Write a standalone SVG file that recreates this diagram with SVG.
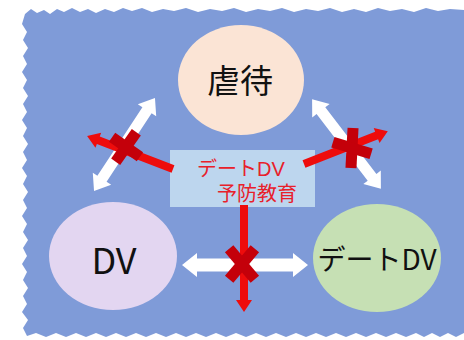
<svg xmlns="http://www.w3.org/2000/svg" width="464" height="340" viewBox="0 0 464 340" lang="ja">
<style>
.jp{font-family:"Noto Sans CJK JP","Noto Sans",sans-serif}
.box{font-family:"Liberation Sans","Noto Sans CJK JP",sans-serif}
.lbl{fill:#111;text-anchor:middle}
.warr{fill:#ffffff}
.rarr{fill:#ee0c0c}
.x{fill:#c4000a}
</style>
<rect x="0" y="0" width="464" height="340" fill="#ffffff"/>
<path id="bg" fill="#7f9bd8" d="M25,14 L31,9 L37,13 L44,10 L50,14 L57,9 L64,12 L72,8 L80,12 L88,9 L96,13 L105,9 L114,12 L123,8 L132,11 L142,8 L152,12 L163,9 L174,11 L186,8 L198,12 L210,9 L222,11 L234,8 L246,12 L258,9 L270,11 L282,8 L294,12 L306,9 L318,11 L330,8 L342,12 L354,9 L366,12 L378,8 L390,11 L402,9 L414,12 L426,8 L438,11 L450,9 L464,10 L464,333 L456,337 L448,333 L440,337 L432,333 L424,337 L416,333 L406,337 L396,333 L386,337 L376,333 L366,337 L356,333 L346,337 L336,333 L326,337 L316,333 L306,337 L296,333 L286,337 L276,333 L266,337 L256,333 L246,337 L236,333 L226,337 L216,333 L206,337 L196,333 L186,337 L176,333 L166,337 L156,333 L146,337 L136,333 L126,337 L116,333 L106,337 L96,333 L86,337 L76,333 L66,337 L56,333 L46,337 L36,333 L27,336 L23,328 L28,320 L22,312 L27,304 L23,296 L28,288 L23,280 L27,272 L22,264 L27,256 L23,248 L28,240 L23,232 L27,224 L22,216 L27,208 L23,200 L28,192 L23,184 L27,176 L22,168 L27,160 L23,152 L28,144 L23,136 L27,128 L22,120 L27,112 L23,104 L28,96 L23,88 L27,80 L22,72 L27,64 L23,56 L28,48 L23,40 L27,32 L22,24 Z"/>
<g id="node-abuse">
<ellipse cx="241" cy="80" rx="63" ry="55" fill="#fbe4d5"/>
<text class="jp lbl" x="240" y="93" font-size="33">虐待</text>
</g>
<g id="node-dv">
<ellipse cx="113" cy="256" rx="64" ry="54" fill="#e3d6f1"/>
<text class="jp lbl" x="114" y="274" font-size="36">DV</text>
</g>
<g id="node-datedv">
<ellipse cx="377" cy="258" rx="64" ry="54" fill="#c6e0b4"/>
<text class="jp lbl" x="377" y="270" font-size="28">デートDV</text>
</g>
<g id="connectors">
<polygon class="warr" transform="translate(245,265)" points="-63,0 -48,-12 -48,-6.5 48,-6.5 48,-12 63,0 48,12 48,6.5 -48,6.5 -48,12"/>
<polygon class="warr" transform="translate(124.5,144.5) rotate(-56.7)" points="-55.5,0 -41,-11 -41,-5.5 41,-5.5 41,-11 55.5,0 41,11 41,5.5 -41,5.5 -41,11"/>
<polygon class="warr" transform="translate(346.5,144) rotate(52.5)" points="-56.5,0 -42,-11 -42,-5.5 42,-5.5 42,-11 56.5,0 42,11 42,5.5 -42,5.5 -42,11"/>
</g>
<g id="node-prevention">
<rect x="170" y="150" width="145" height="57" fill="#bdd6ee"/>
<text class="box" font-size="20" fill="#e8202a"><tspan x="197" y="176">デートDV</tspan><tspan x="217" y="201">予防教育</tspan></text>
</g>
<g id="blocks">
<polygon class="rarr" transform="translate(173,169) rotate(201)" points="0,-4 80,-4 80,-8 92,0 80,8 80,4 0,4"/>
<polygon class="rarr" transform="translate(304,164) rotate(-21.4)" points="0,-4 78,-4 78,-8 90,0 78,8 78,4 0,4"/>
<polygon class="rarr" transform="translate(244,205) rotate(90)" points="0,-4 95,-4 95,-8 107,0 95,8 95,4 0,4"/>
<g transform="translate(126,147) rotate(35)">
<rect class="x" x="-5.5" y="-18" width="11" height="36"/>
<rect class="x" x="-17" y="-5.5" width="34" height="11"/>
</g>
<g transform="translate(352,148)">
<rect class="x" x="-5.5" y="-20" width="11" height="40" transform="rotate(3)"/>
<rect class="x" x="-20" y="-5.5" width="40" height="11" transform="rotate(17)"/>
</g>
<g transform="translate(242,264)">
<rect class="x" x="-5.5" y="-20" width="11" height="40" transform="rotate(40)"/>
<rect class="x" x="-5.5" y="-20" width="11" height="40" transform="rotate(-40)"/>
</g>
</g>
</svg>
